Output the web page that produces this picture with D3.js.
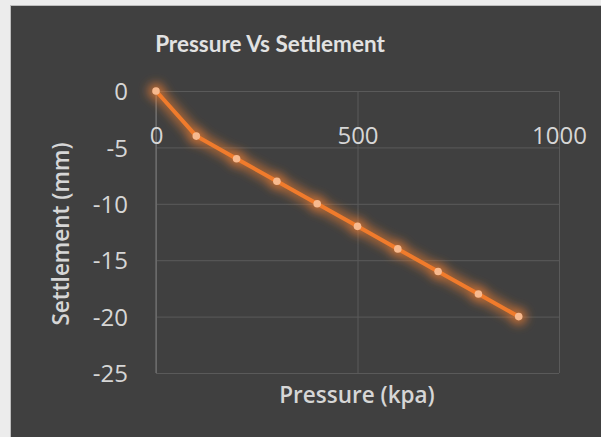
<!DOCTYPE html>
<html>
<head>
<meta charset="utf-8">
<script src="https://cdn.jsdelivr.net/npm/d3@7"></script>
<style>
  html, body { margin: 0; padding: 0; background: #ececec; }
  svg { display: block; }
</style>
</head>
<body>
<svg id="chart" width="601" height="437"></svg>
<script>
// Plate load test: applied pressure against measured settlement
const pressure = [0, 100, 200, 300, 400, 500, 600, 700, 800, 900];
const settlement = [0, -4, -6, -8, -10, -12, -14, -16, -18, -20];
const xTicks = [0, 500, 1000];
const yTicks = [-25, -20, -15, -10, -5, 0];
const chartTitle = "Pressure Vs Settlement";
const xTitle = "Pressure (kpa)";
const yTitle = "Settlement (mm)";

const svg = d3.select("#chart");
const plain = d => String(d);   // keep an ASCII hyphen for negatives
const bodyFont = "'Open Sans', sans-serif";

// chart area panel
svg.append("rect")
  .attr("x", 10.5).attr("y", 5.5)
  .attr("width", 601).attr("height", 440)
  .attr("fill", "#404040")
  .attr("stroke", "#bdbdbd").attr("stroke-width", 1);

const x = d3.scaleLinear().domain([0, 1000]).range([156, 559]);
const y = d3.scaleLinear().domain([-25, 0]).range([373, 91]);

const defs = svg.append("defs");
const glow = defs.append("filter").attr("id", "glow")
  .attr("x", "-20%").attr("y", "-20%").attr("width", "140%").attr("height", "140%");
glow.append("feGaussianBlur").attr("stdDeviation", 5);

// horizontal gridlines
svg.append("g")
  .attr("transform", `translate(${x(0)},0)`)
  .call(d3.axisLeft(y).tickValues(yTicks).tickSize(-(x(1000) - x(0))).tickFormat(""))
  .call(g => g.select(".domain").remove())
  .call(g => g.selectAll(".tick line").attr("stroke", "#5a5a5a").attr("stroke-width", 1));

// vertical gridlines
svg.append("g")
  .attr("transform", `translate(0,${y(-25)})`)
  .call(d3.axisBottom(x).tickValues(xTicks).tickSize(-(y(-25) - y(0))).tickFormat(""))
  .call(g => g.select(".domain").remove())
  .call(g => g.selectAll(".tick line").attr("stroke", "#5a5a5a").attr("stroke-width", 1));

// vertical value axis line at pressure 0
svg.append("line")
  .attr("x1", x(0)).attr("x2", x(0))
  .attr("y1", y(0)).attr("y2", y(-25))
  .attr("stroke", "#7a7a7a").attr("stroke-width", 1);

// y tick labels
svg.append("g")
  .attr("transform", `translate(${x(0)},0)`)
  .call(d3.axisLeft(y).tickValues(yTicks).tickSize(0).tickPadding(28).tickFormat(plain))
  .call(g => g.select(".domain").remove())
  .call(g => g.selectAll("text")
    .attr("fill", "#d6d6d6").attr("font-size", 24).style("font-family", bodyFont)
    .attr("dy", "0.36em"));

// x tick labels, axis crossing at settlement 0
svg.append("g")
  .attr("transform", `translate(0,${y(0)})`)
  .call(d3.axisBottom(x).tickValues(xTicks).tickSize(0).tickPadding(44).tickFormat(plain))
  .call(g => g.select(".domain").remove())
  .call(g => g.selectAll("text")
    .attr("fill", "#d6d6d6").attr("font-size", 24).style("font-family", bodyFont)
    .attr("dy", "0.36em"));

const pts = pressure.map((p, i) => [p, settlement[i]]);
const line = d3.line().x(d => x(d[0])).y(d => y(d[1]));

// soft orange glow behind the series and its markers
const glowLayer = svg.append("g").attr("filter", "url(#glow)");
glowLayer.append("path").datum(pts)
  .attr("d", line)
  .attr("fill", "none")
  .attr("stroke", "#ed7d31").attr("stroke-opacity", 0.55)
  .attr("stroke-width", 13).attr("stroke-linejoin", "round").attr("stroke-linecap", "round");
glowLayer.selectAll("circle").data(pts).join("circle")
  .attr("cx", d => x(d[0])).attr("cy", d => y(d[1]))
  .attr("r", 9)
  .attr("fill", "#ed7d31").attr("fill-opacity", 0.45);

svg.append("path").datum(pts)
  .attr("d", line)
  .attr("fill", "none")
  .attr("stroke", "#f07b2c")
  .attr("stroke-width", 4).attr("stroke-linejoin", "round");

svg.append("g").selectAll("circle").data(pts).join("circle")
  .attr("cx", d => x(d[0])).attr("cy", d => y(d[1]))
  .attr("r", 3.8)
  .attr("fill", "#f7b98e");

// titles
svg.append("text")
  .attr("x", 270).attr("y", 52)
  .attr("text-anchor", "middle")
  .style("font-family", "Lato, sans-serif")
  .attr("font-size", 22.5).attr("font-weight", "bold")
  .attr("fill", "#e2e2e2")
  .text(chartTitle);

svg.append("text")
  .attr("x", 357).attr("y", 403)
  .attr("text-anchor", "middle")
  .style("font-family", bodyFont)
  .attr("font-size", 22.5).attr("font-weight", 600)
  .attr("fill", "#d6d6d6")
  .text(xTitle);

svg.append("text")
  .attr("transform", "translate(69,234) rotate(-90)")
  .attr("text-anchor", "middle")
  .style("font-family", bodyFont)
  .attr("font-size", 22.5).attr("font-weight", 600)
  .attr("fill", "#d6d6d6")
  .text(yTitle);
</script>
</body>
</html>
